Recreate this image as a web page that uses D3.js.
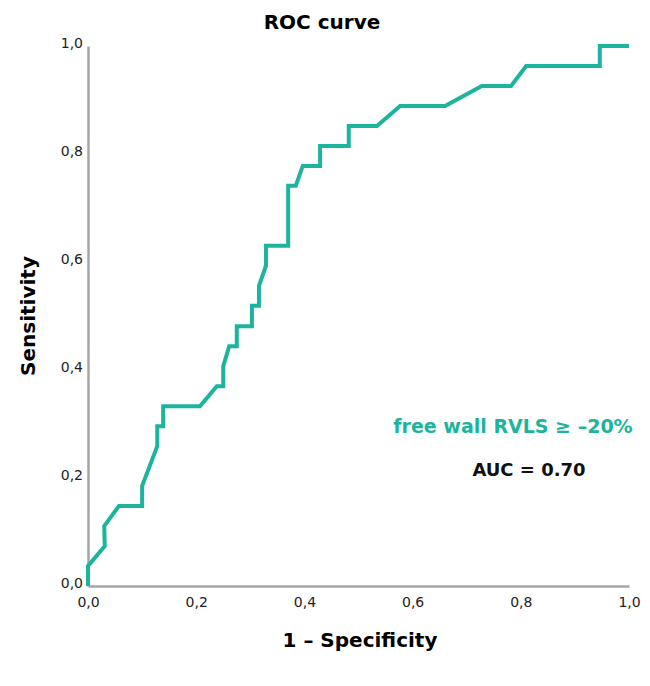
<!DOCTYPE html>
<html>
<head>
<meta charset="utf-8">
<script src="https://cdn.jsdelivr.net/npm/d3@7"></script>
<style>
  body { margin: 0; background: #fff; }
  text { font-family: "DejaVu Sans", sans-serif; }
</style>
</head>
<body>
<svg id="roc" width="650" height="686"></svg>
<script>
// ROC curve points (1 - specificity, sensitivity)
let fpr = [0, 0, 0.031, 0.030, 0.057, 0.100, 0.100, 0.128, 0.128, 0.139, 0.139, 0.207, 0.238, 0.250, 0.250,
           0.261, 0.275, 0.275, 0.303, 0.303, 0.316, 0.316, 0.329, 0.329, 0.370, 0.370, 0.384, 0.397, 0.429,
           0.429, 0.482, 0.482, 0.534, 0.577, 0.660, 0.728, 0.782, 0.810, 0.946, 0.946, 1.0];
let tpr = [0, 0.037, 0.074, 0.111, 0.148, 0.148, 0.185, 0.259, 0.296, 0.296, 0.333, 0.333, 0.370, 0.370, 0.407,
           0.444, 0.444, 0.481, 0.481, 0.519, 0.519, 0.556, 0.593, 0.630, 0.630, 0.741, 0.741, 0.778, 0.778,
           0.815, 0.815, 0.852, 0.852, 0.889, 0.889, 0.926, 0.926, 0.963, 0.963, 1.0, 1.0];
let tickValues = [0, 0.2, 0.4, 0.6, 0.8, 1.0];

let svg = d3.select('#roc');
let margin = {left: 88, right: 21, top: 46, bottom: 100};
let width = 650 - margin.left - margin.right;
let height = 686 - margin.top - margin.bottom;

let x = d3.scaleLinear().domain([0, 1]).range([0, width]);
let y = d3.scaleLinear().domain([0, 1]).range([height, 0]);
let fmt = d => d3.format('.1f')(d).replace('.', ',');

let g = svg.append('g').attr('transform', `translate(${margin.left},${margin.top})`);

// axes
let xAxis = g.append('g')
    .attr('transform', `translate(0,${height})`)
    .call(d3.axisBottom(x).tickValues(tickValues).tickFormat(fmt).tickSize(0).tickPadding(11));
let yAxis = g.append('g')
    .call(d3.axisLeft(y).tickValues(tickValues).tickFormat(fmt).tickSize(0).tickPadding(5));

[xAxis, yAxis].forEach(ax => {
    ax.select('.domain').attr('stroke', '#a6a6a6').attr('stroke-width', 2.5);
    ax.selectAll('text').attr('font-size', 14).attr('fill', '#222')
      .style('font-family', '"DejaVu Sans", sans-serif');
});
yAxis.selectAll('text').attr('dy', '0.1em');

// curve
let pts = fpr.map((v, i) => [v, tpr[i]]);
g.append('path')
    .datum(pts)
    .attr('fill', 'none')
    .attr('stroke', '#1db49d')
    .attr('stroke-width', 4)
    .attr('stroke-linejoin', 'miter')
    .attr('d', d3.line().x(d => x(d[0])).y(d => y(d[1])));

// title and labels
svg.append('text').attr('x', 322).attr('y', 29).attr('text-anchor', 'middle')
    .attr('font-size', 20).attr('font-weight', 'bold').text('ROC curve');
svg.append('text').attr('x', 360).attr('y', 647).attr('text-anchor', 'middle')
    .attr('font-size', 20).attr('font-weight', 'bold').text('1 – Specificity');
svg.append('text').attr('transform', 'translate(35,316) rotate(-90)').attr('text-anchor', 'middle')
    .attr('font-size', 20).attr('font-weight', 'bold').text('Sensitivity');

svg.append('text').attr('x', 513).attr('y', 433).attr('text-anchor', 'middle')
    .attr('font-size', 19).attr('font-weight', 'bold').attr('fill', '#1db49d').text('free wall RVLS ≥ –20%');
svg.append('text').attr('x', 529).attr('y', 476).attr('text-anchor', 'middle')
    .attr('font-size', 18).attr('font-weight', 'bold').attr('fill', '#111').text('AUC = 0.70');
</script>
</body>
</html>
